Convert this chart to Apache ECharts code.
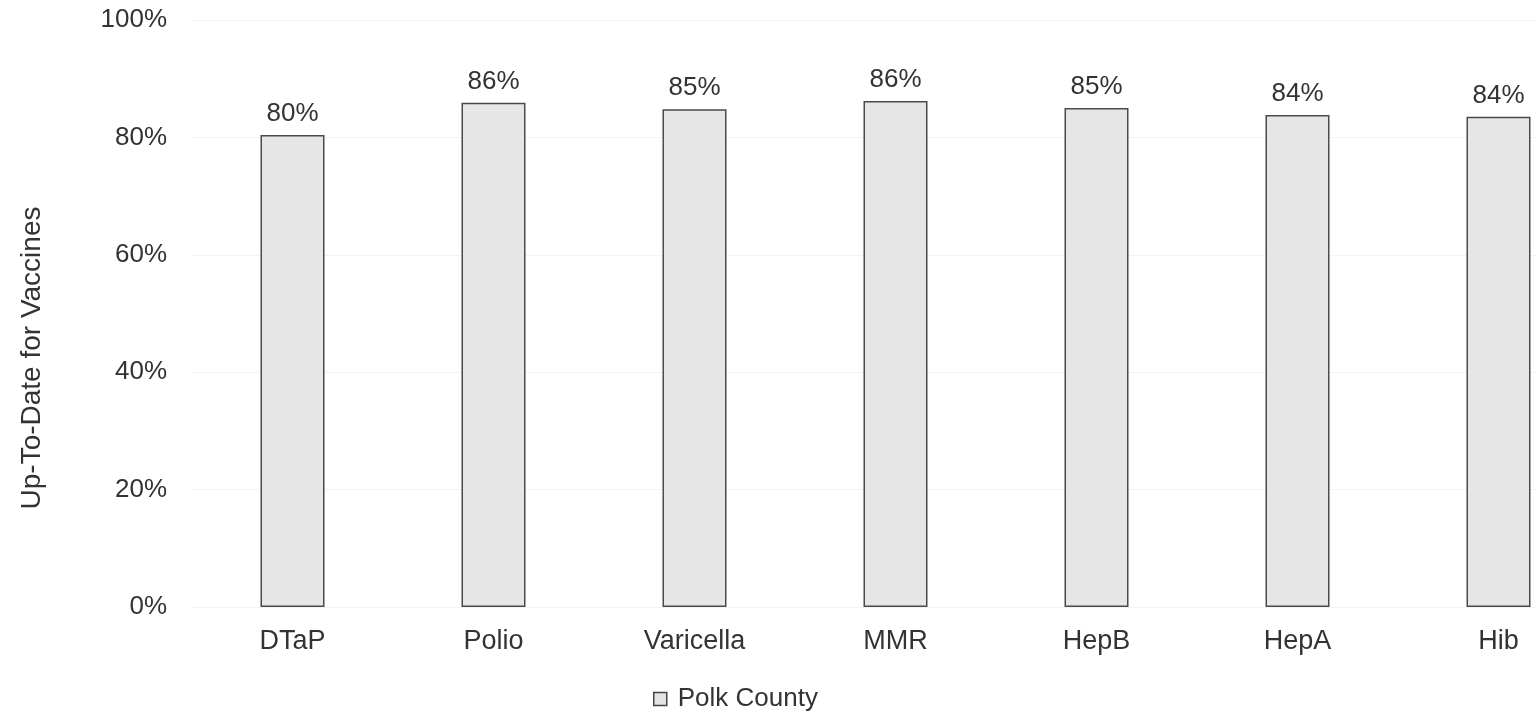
<!DOCTYPE html>
<html>
<head>
<meta charset="utf-8">
<script src="https://cdn.jsdelivr.net/npm/echarts@6/dist/echarts.min.js"></script>
<style>
html,body{margin:0;padding:0;background:#fff;}
#c{width:1536px;height:715px;}
</style>
</head>
<body>
<div id="c"></div>
<script>
const categories = ['DTaP', 'Polio', 'Varicella', 'MMR', 'HepB', 'HepA', 'Hib'];
const polkCounty = [80.4, 85.9, 84.8, 86.2, 85.0, 83.8, 83.5];
const seriesName = 'Polk County';
const yAxisTitle = 'Up-To-Date for Vaccines';

const chart = echarts.init(document.getElementById('c'));
const font = 'Liberation Sans, Arial, sans-serif';
chart.setOption({
  animation: false,
  textStyle: { fontFamily: font },
  grid: { left: 192, top: 20, width: 1407, height: 587, outerBoundsMode: 'none', containLabel: false },
  xAxis: {
    type: 'category',
    data: categories,
    axisLine: { show: false },
    axisTick: { show: false },
    axisLabel: { color: '#333', fontSize: 27, margin: 21, fontFamily: font }
  },
  yAxis: {
    type: 'value',
    min: 0, max: 100, interval: 20,
    axisLabel: { formatter: '{value}%', color: '#333', fontSize: 26, margin: 25, fontFamily: font },
    axisLine: { show: false },
    axisTick: { show: false },
    splitLine: { lineStyle: { color: '#f3f3f3', width: 1 } }
  },
  legend: {
    data: [seriesName],
    bottom: -2,
    left: 648,
    icon: 'rect',
    itemWidth: 13,
    itemHeight: 13,
    itemGap: 6,
    textStyle: { color: '#333', fontSize: 26, fontFamily: font, padding: [0, 0, 0, 6] },
    itemStyle: { color: '#e4e4e4', borderColor: '#444', borderWidth: 1.5 }
  },
  graphic: [{
    type: 'text',
    rotation: Math.PI / 2,
    x: 32, y: 358,
    style: {
      text: yAxisTitle,
      fill: '#333',
      fontSize: 28,
      fontFamily: font,
      align: 'center',
      verticalAlign: 'middle'
    }
  }],
  series: [{
    name: seriesName,
    type: 'bar',
    data: polkCounty,
    barWidth: 64,
    itemStyle: { color: '#e6e6e6', borderColor: '#4a4a4a', borderWidth: 1.5 },
    label: {
      show: true,
      position: 'top',
      distance: 8,
      color: '#333',
      fontSize: 26,
      fontFamily: font,
      formatter: p => Math.round(p.value) + '%'
    }
  }]
});
</script>
</body>
</html>
